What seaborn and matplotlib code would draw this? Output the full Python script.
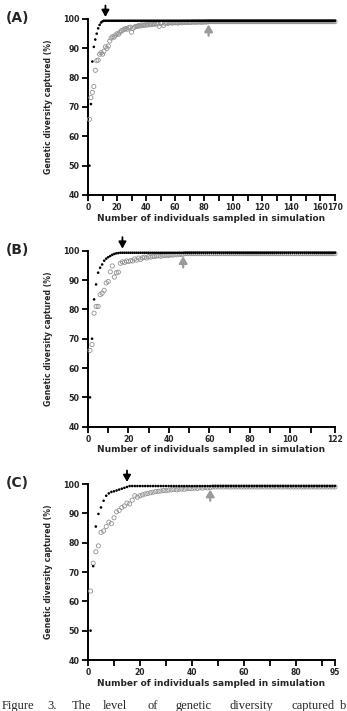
import numpy as np
import pandas as pd
import matplotlib
matplotlib.use("Agg")
import matplotlib.pyplot as plt
import seaborn as sns

# ---------------- data ----------------
# Panel A (N = 170)
a_black = [50, 71, 85.5, 90.5, 93, 95, 96.8, 98, 98.8, 99.2] + [99.4] * 160
a_grey = ([65.8, 73.2, 75, 77, 82.5, 85.8, 86, 88, 88.5, 88, 89, 90.5, 90, 90.8,
           92.5, 93.5, 94, 93.8, 94.5, 95, 94.8, 95.5, 96, 96.2, 96.5, 96.8, 96.5,
           97, 97.2, 95.5, 96.8, 97.2, 97.5, 97.5, 97.8, 97.6, 98, 97.8, 98, 97.9,
           98.2, 98, 98.3, 98.1, 98.4, 98.2, 98.5, 98.3, 97.5, 98.5, 98.6, 97.8,
           98.6, 98.7, 98.5, 98.7, 98.8, 98.6, 98.8, 98.7, 98.8, 98.6, 98.8, 98.9,
           98.7, 98.9, 98.8, 98.9, 98.9, 98.8, 98.9, 99, 98.9, 99, 98.9, 99, 99,
           98.9, 99, 99, 99, 99]
          + [99.1] * 88)
a_arrows = (12, 83)

# Panel B (N = 122)
b_black = [50, 70, 83.4, 88.5, 92.5, 94.2, 95.3, 96.6, 97.3, 97.8, 98.2, 98.6,
           98.9, 99.1, 99.2, 99.3] + [99.3] * 106
b_grey = ([66, 68, 78.7, 81, 81, 85, 85.5, 86.5, 89, 89.5, 92.8, 94.8, 91, 92.5,
           92.7, 95.7, 96.2, 96, 96.5, 96.3, 96.6, 96.5, 97.2, 96.8, 97.5, 97,
           97.6, 97.8, 97.5, 98, 97.8, 98.1, 98, 98.2, 98.3, 98.1, 98.4, 98.3,
           98.5, 98.4, 98.6, 98.5, 98.7, 98.6, 98.8, 98.7, 98.8]
          + [99.0] * 75)
b_arrows = (17, 47)

# Panel C (N = 95)
c_black = [50, 72, 85.5, 89.8, 92, 94.3, 96, 96.8, 97.3, 97.5, 97.8, 98.1, 98.4,
           98.7, 99, 99.3] + [99.3] * 79
c_grey = ([63.5, 73, 76.9, 78.9, 83.5, 84, 85.5, 87, 86.5, 88.5, 90.5, 91, 92,
           92.5, 93.5, 93.2, 94.5, 96, 95.5, 96, 96.3, 96.6, 96.8, 97, 97.2, 97.4,
           97.5, 97.6, 97.8, 97.7, 97.9, 98, 98.1, 98, 98.2, 98.3, 98.2, 98.4,
           98.5, 98.4, 98.6, 98.5, 98.7, 98.6, 98.8, 98.7, 98.8]
          + [99.0] * 48)
c_arrows = (15, 47)

panels = [
    ("(A)", a_black, a_grey, a_arrows, 170,
     list(range(0, 170, 10)) + [170], [0, 20, 40, 60, 80, 100, 120, 140, 160, 170]),
    ("(B)", b_black, b_grey, b_arrows, 122,
     list(range(0, 120, 10)) + [122], [0, 20, 40, 60, 80, 100, 122]),
    ("(C)", c_black, c_grey, c_arrows, 95,
     list(range(0, 100, 10)) + [95], [0, 20, 40, 60, 80, 95]),
]
y_ticks = [40, 50, 60, 70, 80, 90, 100]
xlabel = "Number of individuals sampled in simulation"
ylabel = "Genetic diversity captured (%)"
caption_words = ["Figure", "3.", "The", "level", "of", "genetic", "diversity", "captured", "b"]

# ---------------- plot ----------------
sns.set_style("ticks")
plt.rcParams["font.family"] = ["DejaVu Sans"]
plt.rcParams["font.weight"] = "bold"

W, H = 347, 711
fig = plt.figure(figsize=(W / 100, H / 100), dpi=100)

ax_tops = [19, 250.7, 484]
ax_left, ax_right, ax_h = 88, 335, 176

for (label, black, grey, arrows, nmax, xt, xl), top in zip(panels, ax_tops):
    ax = fig.add_axes([ax_left / W, 1 - (top + ax_h) / H,
                       (ax_right - ax_left) / W, ax_h / H])
    dfb = pd.DataFrame({"n": np.arange(1, len(black) + 1), "v": black})
    dfg = pd.DataFrame({"n": np.arange(1, len(grey) + 1), "v": grey})
    sns.scatterplot(data=dfg, x="n", y="v", ax=ax, marker="o", s=9,
                    facecolor="none", edgecolor="#929292", linewidth=0.6,
                    clip_on=False, zorder=3)
    sns.scatterplot(data=dfb, x="n", y="v", ax=ax, marker="o", s=3.5,
                    color="black", edgecolor="none", linewidth=0,
                    clip_on=False, zorder=4)
    ax.set_xlim(0, nmax)
    ax.set_ylim(40, 100)
    ax.set_xticks(xt)
    ax.set_xticklabels([str(t) if t in xl else "" for t in xt])
    ax.set_yticks(y_ticks)
    ax.tick_params(axis="both", direction="out", length=4, width=1.3,
                   labelsize=5.8, pad=2, color="black")
    ax.tick_params(axis="x", labelsize=5.5)
    for t in ax.get_xticklabels() + ax.get_yticklabels():
        t.set_fontweight("bold")
    for s in ["left", "bottom"]:
        ax.spines[s].set_linewidth(1.4)
        ax.spines[s].set_color("black")
    sns.despine(ax=ax)
    ax.set_xlabel(xlabel, fontsize=6.5, fontweight="bold", labelpad=1)
    ax.set_ylabel(ylabel, fontsize=5.6, fontweight="bold", labelpad=7)
    # arrows
    bx, gx = arrows
    ax.annotate("", xy=(bx, 100.7), xytext=(bx, 104.6), annotation_clip=False,
                arrowprops=dict(arrowstyle="-|>,head_length=0.5,head_width=0.28",
                                color="black", lw=1.3, shrinkA=0, shrinkB=0,
                                mutation_scale=8))
    ax.annotate("", xy=(gx, 98.1), xytext=(gx, 94.3), annotation_clip=False,
                arrowprops=dict(arrowstyle="-|>,head_length=0.5,head_width=0.3",
                                color="#9a9a9a", lw=1.6, shrinkA=0, shrinkB=0,
                                mutation_scale=8))
    fig.text(6 / W, 1 - (top - 1) / H, label, fontsize=10, fontweight="bold",
             va="center", ha="left")

# caption (cut off at the bottom, justified)
word_x = [2, 47, 72, 103, 147, 175, 230, 292, 340]
for w, x in zip(caption_words, word_x):
    fig.text(x / W, 1 - 700 / H, w, fontsize=9, family="Liberation Serif",
             fontweight="normal", va="top", ha="left")

fig.savefig("out.png", dpi=100)
